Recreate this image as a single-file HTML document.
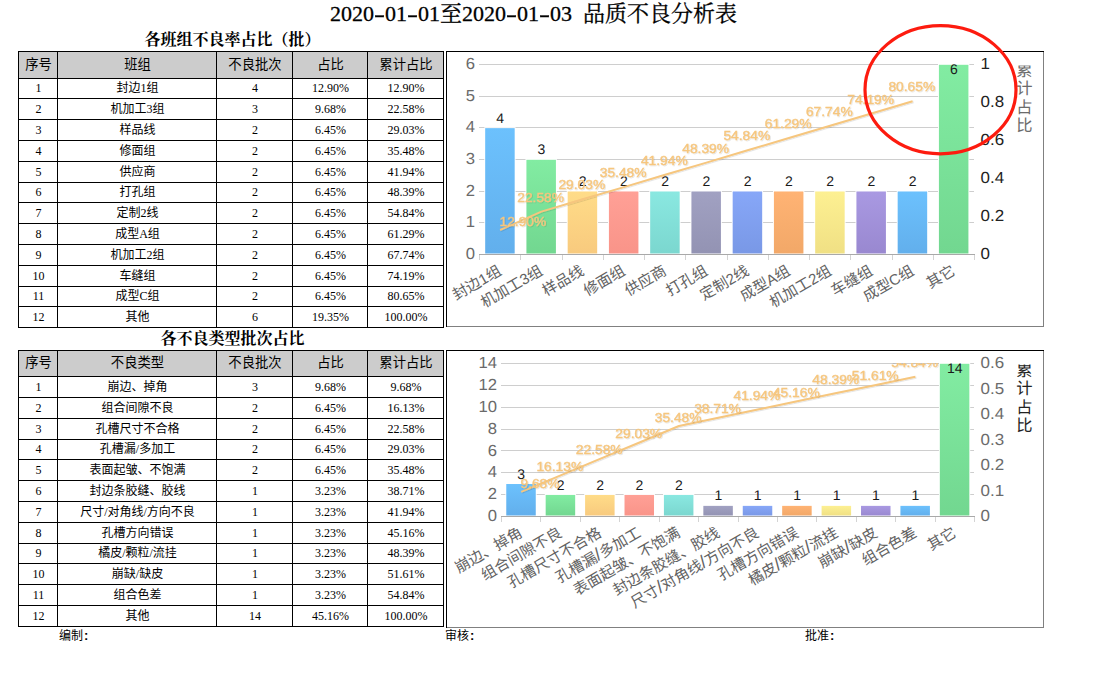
<!DOCTYPE html>
<html lang="zh"><head><meta charset="utf-8"><title>品质不良分析表</title><style>
html,body{margin:0;padding:0;background:#fff}
#page{position:relative;width:1093px;height:684px;overflow:hidden;background:#fff;font-family:"Liberation Serif","Noto Sans CJK SC",serif;color:#000}
.title{position:absolute;left:0;top:3px;width:1067px;text-align:center;font-size:22px;line-height:22px;white-space:nowrap;-webkit-text-stroke:0.3px #000;font-family:"Liberation Serif","Noto Serif CJK SC",serif}
.title i{display:inline-block;width:11px;text-align:center;font-style:normal;transform:scaleX(1.5)}
.sec{position:absolute;left:19.5px;width:426px;text-align:center;font-size:16px;line-height:18px;font-weight:bold;white-space:nowrap;font-family:"Liberation Serif","Noto Serif CJK SC",serif}
.c{position:absolute;box-sizing:border-box;padding:0 0 1px 1px;border:1px solid #000;display:flex;align-items:center;justify-content:center;font-size:12px;line-height:12px;white-space:nowrap}
.c.h{background:#ccc;font-size:13.33px;line-height:14px}
.chart{position:absolute;display:block}
.ft{position:absolute;top:628.3px;font-size:12px;line-height:14px;white-space:nowrap}
.ft b{font:bold 13px "Liberation Sans",sans-serif;margin-left:1px}
.ann{position:absolute;left:0;top:0;pointer-events:none}
</style></head><body>
<div id="page">
<div class="title">2020<i>-</i>01<i>-</i>01至2020<i>-</i>01<i>-</i>03<i> </i>品质不良分析表</div>
<div class="sec" style="top:31.2px">各班组不良率占比（批）</div>
<div class="sec" style="top:330.2px">各不良类型批次占比</div>
<div class="tbl">
<div class="c h" style="left:18px;top:51px;width:40px;height:28px"><span>序号</span></div>
<div class="c h" style="left:57px;top:51px;width:160px;height:28px"><span>班组</span></div>
<div class="c h" style="left:216px;top:51px;width:77px;height:28px"><span>不良批次</span></div>
<div class="c h" style="left:292px;top:51px;width:76px;height:28px"><span>占比</span></div>
<div class="c h" style="left:367px;top:51px;width:77px;height:28px"><span>累计占比</span></div>
<div class="c" style="left:18px;top:78px;width:40px;height:21px"><span>1</span></div>
<div class="c" style="left:57px;top:78px;width:160px;height:21px"><span>封边1组</span></div>
<div class="c" style="left:216px;top:78px;width:77px;height:21px"><span>4</span></div>
<div class="c" style="left:292px;top:78px;width:76px;height:21px"><span>12.90%</span></div>
<div class="c" style="left:367px;top:78px;width:77px;height:21px"><span>12.90%</span></div>
<div class="c" style="left:18px;top:98px;width:40px;height:22px"><span>2</span></div>
<div class="c" style="left:57px;top:98px;width:160px;height:22px"><span>机加工3组</span></div>
<div class="c" style="left:216px;top:98px;width:77px;height:22px"><span>3</span></div>
<div class="c" style="left:292px;top:98px;width:76px;height:22px"><span>9.68%</span></div>
<div class="c" style="left:367px;top:98px;width:77px;height:22px"><span>22.58%</span></div>
<div class="c" style="left:18px;top:119px;width:40px;height:22px"><span>3</span></div>
<div class="c" style="left:57px;top:119px;width:160px;height:22px"><span>样品线</span></div>
<div class="c" style="left:216px;top:119px;width:77px;height:22px"><span>2</span></div>
<div class="c" style="left:292px;top:119px;width:76px;height:22px"><span>6.45%</span></div>
<div class="c" style="left:367px;top:119px;width:77px;height:22px"><span>29.03%</span></div>
<div class="c" style="left:18px;top:140px;width:40px;height:22px"><span>4</span></div>
<div class="c" style="left:57px;top:140px;width:160px;height:22px"><span>修面组</span></div>
<div class="c" style="left:216px;top:140px;width:77px;height:22px"><span>2</span></div>
<div class="c" style="left:292px;top:140px;width:76px;height:22px"><span>6.45%</span></div>
<div class="c" style="left:367px;top:140px;width:77px;height:22px"><span>35.48%</span></div>
<div class="c" style="left:18px;top:161px;width:40px;height:22px"><span>5</span></div>
<div class="c" style="left:57px;top:161px;width:160px;height:22px"><span>供应商</span></div>
<div class="c" style="left:216px;top:161px;width:77px;height:22px"><span>2</span></div>
<div class="c" style="left:292px;top:161px;width:76px;height:22px"><span>6.45%</span></div>
<div class="c" style="left:367px;top:161px;width:77px;height:22px"><span>41.94%</span></div>
<div class="c" style="left:18px;top:182px;width:40px;height:21px"><span>6</span></div>
<div class="c" style="left:57px;top:182px;width:160px;height:21px"><span>打孔组</span></div>
<div class="c" style="left:216px;top:182px;width:77px;height:21px"><span>2</span></div>
<div class="c" style="left:292px;top:182px;width:76px;height:21px"><span>6.45%</span></div>
<div class="c" style="left:367px;top:182px;width:77px;height:21px"><span>48.39%</span></div>
<div class="c" style="left:18px;top:202px;width:40px;height:22px"><span>7</span></div>
<div class="c" style="left:57px;top:202px;width:160px;height:22px"><span>定制2线</span></div>
<div class="c" style="left:216px;top:202px;width:77px;height:22px"><span>2</span></div>
<div class="c" style="left:292px;top:202px;width:76px;height:22px"><span>6.45%</span></div>
<div class="c" style="left:367px;top:202px;width:77px;height:22px"><span>54.84%</span></div>
<div class="c" style="left:18px;top:223px;width:40px;height:22px"><span>8</span></div>
<div class="c" style="left:57px;top:223px;width:160px;height:22px"><span>成型A组</span></div>
<div class="c" style="left:216px;top:223px;width:77px;height:22px"><span>2</span></div>
<div class="c" style="left:292px;top:223px;width:76px;height:22px"><span>6.45%</span></div>
<div class="c" style="left:367px;top:223px;width:77px;height:22px"><span>61.29%</span></div>
<div class="c" style="left:18px;top:244px;width:40px;height:22px"><span>9</span></div>
<div class="c" style="left:57px;top:244px;width:160px;height:22px"><span>机加工2组</span></div>
<div class="c" style="left:216px;top:244px;width:77px;height:22px"><span>2</span></div>
<div class="c" style="left:292px;top:244px;width:76px;height:22px"><span>6.45%</span></div>
<div class="c" style="left:367px;top:244px;width:77px;height:22px"><span>67.74%</span></div>
<div class="c" style="left:18px;top:265px;width:40px;height:22px"><span>10</span></div>
<div class="c" style="left:57px;top:265px;width:160px;height:22px"><span>车缝组</span></div>
<div class="c" style="left:216px;top:265px;width:77px;height:22px"><span>2</span></div>
<div class="c" style="left:292px;top:265px;width:76px;height:22px"><span>6.45%</span></div>
<div class="c" style="left:367px;top:265px;width:77px;height:22px"><span>74.19%</span></div>
<div class="c" style="left:18px;top:286px;width:40px;height:21px"><span>11</span></div>
<div class="c" style="left:57px;top:286px;width:160px;height:21px"><span>成型C组</span></div>
<div class="c" style="left:216px;top:286px;width:77px;height:21px"><span>2</span></div>
<div class="c" style="left:292px;top:286px;width:76px;height:21px"><span>6.45%</span></div>
<div class="c" style="left:367px;top:286px;width:77px;height:21px"><span>80.65%</span></div>
<div class="c" style="left:18px;top:306px;width:40px;height:22px"><span>12</span></div>
<div class="c" style="left:57px;top:306px;width:160px;height:22px"><span>其他</span></div>
<div class="c" style="left:216px;top:306px;width:77px;height:22px"><span>6</span></div>
<div class="c" style="left:292px;top:306px;width:76px;height:22px"><span>19.35%</span></div>
<div class="c" style="left:367px;top:306px;width:77px;height:22px"><span>100.00%</span></div>
</div>
<div class="tbl">
<div class="c h" style="left:18px;top:350px;width:40px;height:27px"><span>序号</span></div>
<div class="c h" style="left:57px;top:350px;width:160px;height:27px"><span>不良类型</span></div>
<div class="c h" style="left:216px;top:350px;width:77px;height:27px"><span>不良批次</span></div>
<div class="c h" style="left:292px;top:350px;width:76px;height:27px"><span>占比</span></div>
<div class="c h" style="left:367px;top:350px;width:77px;height:27px"><span>累计占比</span></div>
<div class="c" style="left:18px;top:376px;width:40px;height:22px"><span>1</span></div>
<div class="c" style="left:57px;top:376px;width:160px;height:22px"><span>崩边、掉角</span></div>
<div class="c" style="left:216px;top:376px;width:77px;height:22px"><span>3</span></div>
<div class="c" style="left:292px;top:376px;width:76px;height:22px"><span>9.68%</span></div>
<div class="c" style="left:367px;top:376px;width:77px;height:22px"><span>9.68%</span></div>
<div class="c" style="left:18px;top:397px;width:40px;height:22px"><span>2</span></div>
<div class="c" style="left:57px;top:397px;width:160px;height:22px"><span>组合间隙不良</span></div>
<div class="c" style="left:216px;top:397px;width:77px;height:22px"><span>2</span></div>
<div class="c" style="left:292px;top:397px;width:76px;height:22px"><span>6.45%</span></div>
<div class="c" style="left:367px;top:397px;width:77px;height:22px"><span>16.13%</span></div>
<div class="c" style="left:18px;top:418px;width:40px;height:22px"><span>3</span></div>
<div class="c" style="left:57px;top:418px;width:160px;height:22px"><span>孔槽尺寸不合格</span></div>
<div class="c" style="left:216px;top:418px;width:77px;height:22px"><span>2</span></div>
<div class="c" style="left:292px;top:418px;width:76px;height:22px"><span>6.45%</span></div>
<div class="c" style="left:367px;top:418px;width:77px;height:22px"><span>22.58%</span></div>
<div class="c" style="left:18px;top:439px;width:40px;height:21px"><span>4</span></div>
<div class="c" style="left:57px;top:439px;width:160px;height:21px"><span>孔槽漏/多加工</span></div>
<div class="c" style="left:216px;top:439px;width:77px;height:21px"><span>2</span></div>
<div class="c" style="left:292px;top:439px;width:76px;height:21px"><span>6.45%</span></div>
<div class="c" style="left:367px;top:439px;width:77px;height:21px"><span>29.03%</span></div>
<div class="c" style="left:18px;top:459px;width:40px;height:22px"><span>5</span></div>
<div class="c" style="left:57px;top:459px;width:160px;height:22px"><span>表面起皱、不饱满</span></div>
<div class="c" style="left:216px;top:459px;width:77px;height:22px"><span>2</span></div>
<div class="c" style="left:292px;top:459px;width:76px;height:22px"><span>6.45%</span></div>
<div class="c" style="left:367px;top:459px;width:77px;height:22px"><span>35.48%</span></div>
<div class="c" style="left:18px;top:480px;width:40px;height:22px"><span>6</span></div>
<div class="c" style="left:57px;top:480px;width:160px;height:22px"><span>封边条胶缝、胶线</span></div>
<div class="c" style="left:216px;top:480px;width:77px;height:22px"><span>1</span></div>
<div class="c" style="left:292px;top:480px;width:76px;height:22px"><span>3.23%</span></div>
<div class="c" style="left:367px;top:480px;width:77px;height:22px"><span>38.71%</span></div>
<div class="c" style="left:18px;top:501px;width:40px;height:22px"><span>7</span></div>
<div class="c" style="left:57px;top:501px;width:160px;height:22px"><span>尺寸/对角线/方向不良</span></div>
<div class="c" style="left:216px;top:501px;width:77px;height:22px"><span>1</span></div>
<div class="c" style="left:292px;top:501px;width:76px;height:22px"><span>3.23%</span></div>
<div class="c" style="left:367px;top:501px;width:77px;height:22px"><span>41.94%</span></div>
<div class="c" style="left:18px;top:522px;width:40px;height:22px"><span>8</span></div>
<div class="c" style="left:57px;top:522px;width:160px;height:22px"><span>孔槽方向错误</span></div>
<div class="c" style="left:216px;top:522px;width:77px;height:22px"><span>1</span></div>
<div class="c" style="left:292px;top:522px;width:76px;height:22px"><span>3.23%</span></div>
<div class="c" style="left:367px;top:522px;width:77px;height:22px"><span>45.16%</span></div>
<div class="c" style="left:18px;top:543px;width:40px;height:21px"><span>9</span></div>
<div class="c" style="left:57px;top:543px;width:160px;height:21px"><span>橘皮/颗粒/流挂</span></div>
<div class="c" style="left:216px;top:543px;width:77px;height:21px"><span>1</span></div>
<div class="c" style="left:292px;top:543px;width:76px;height:21px"><span>3.23%</span></div>
<div class="c" style="left:367px;top:543px;width:77px;height:21px"><span>48.39%</span></div>
<div class="c" style="left:18px;top:563px;width:40px;height:22px"><span>10</span></div>
<div class="c" style="left:57px;top:563px;width:160px;height:22px"><span>崩缺/缺皮</span></div>
<div class="c" style="left:216px;top:563px;width:77px;height:22px"><span>1</span></div>
<div class="c" style="left:292px;top:563px;width:76px;height:22px"><span>3.23%</span></div>
<div class="c" style="left:367px;top:563px;width:77px;height:22px"><span>51.61%</span></div>
<div class="c" style="left:18px;top:584px;width:40px;height:22px"><span>11</span></div>
<div class="c" style="left:57px;top:584px;width:160px;height:22px"><span>组合色差</span></div>
<div class="c" style="left:216px;top:584px;width:77px;height:22px"><span>1</span></div>
<div class="c" style="left:292px;top:584px;width:76px;height:22px"><span>3.23%</span></div>
<div class="c" style="left:367px;top:584px;width:77px;height:22px"><span>54.84%</span></div>
<div class="c" style="left:18px;top:605px;width:40px;height:22px"><span>12</span></div>
<div class="c" style="left:57px;top:605px;width:160px;height:22px"><span>其他</span></div>
<div class="c" style="left:216px;top:605px;width:77px;height:22px"><span>14</span></div>
<div class="c" style="left:292px;top:605px;width:76px;height:22px"><span>45.16%</span></div>
<div class="c" style="left:367px;top:605px;width:77px;height:22px"><span>100.00%</span></div>
</div>
<svg class="chart" style="left:446px;top:51px" width="598" height="276" viewBox="446 51 598 276" font-family="Liberation Sans, Noto Sans CJK SC, sans-serif" text-rendering="geometricPrecision">
<defs>
<linearGradient id="gr0" x1="0" y1="0" x2="0" y2="1"><stop offset="0" stop-color="#6cc1fd"/><stop offset="1" stop-color="#62afec"/></linearGradient>
<linearGradient id="gr1" x1="0" y1="0" x2="0" y2="1"><stop offset="0" stop-color="#82eca2"/><stop offset="1" stop-color="#72d790"/></linearGradient>
<linearGradient id="gr2" x1="0" y1="0" x2="0" y2="1"><stop offset="0" stop-color="#ffdc88"/><stop offset="1" stop-color="#f8ca7e"/></linearGradient>
<linearGradient id="gr3" x1="0" y1="0" x2="0" y2="1"><stop offset="0" stop-color="#ffa096"/><stop offset="1" stop-color="#f99489"/></linearGradient>
<linearGradient id="gr4" x1="0" y1="0" x2="0" y2="1"><stop offset="0" stop-color="#8ae8e1"/><stop offset="1" stop-color="#7bd7cf"/></linearGradient>
<linearGradient id="gr5" x1="0" y1="0" x2="0" y2="1"><stop offset="0" stop-color="#a1a1c2"/><stop offset="1" stop-color="#9393b3"/></linearGradient>
<linearGradient id="gr6" x1="0" y1="0" x2="0" y2="1"><stop offset="0" stop-color="#87a7f8"/><stop offset="1" stop-color="#7998e6"/></linearGradient>
<linearGradient id="gr7" x1="0" y1="0" x2="0" y2="1"><stop offset="0" stop-color="#ffb374"/><stop offset="1" stop-color="#f2a868"/></linearGradient>
<linearGradient id="gr8" x1="0" y1="0" x2="0" y2="1"><stop offset="0" stop-color="#fdf092"/><stop offset="1" stop-color="#f0e084"/></linearGradient>
<linearGradient id="gr9" x1="0" y1="0" x2="0" y2="1"><stop offset="0" stop-color="#a999e2"/><stop offset="1" stop-color="#9988d0"/></linearGradient>
<filter id="sh" x="-5%" y="-30%" width="110%" height="160%"><feDropShadow dx="0.8" dy="0.8" stdDeviation="0.5" flood-color="#000" flood-opacity="0.13"/></filter>
</defs>
<clipPath id="cp1"><rect x="446" y="64.0" width="597" height="261"/></clipPath>
<path d="M479 222.5H974M479 191.5H974M479 159.5H974M479 127.5H974M479 96.5H974M479 64.5H974" stroke="#cecece" stroke-width="1" fill="none" shape-rendering="crispEdges"/>
<g fill="#6a6a6a" font-size="16" text-anchor="end">
<text transform="translate(474.9,259.10) scale(1.04,1)">0</text>
<text transform="translate(474.9,227.43) scale(1.04,1)">1</text>
<text transform="translate(474.9,195.77) scale(1.04,1)">2</text>
<text transform="translate(474.9,164.10) scale(1.04,1)">3</text>
<text transform="translate(474.9,132.43) scale(1.04,1)">4</text>
<text transform="translate(474.9,100.77) scale(1.04,1)">5</text>
<text transform="translate(474.9,69.10) scale(1.04,1)">6</text>
</g>
<rect x="484.27" y="127.23" width="31.30" height="126.77" fill="#fff"/><rect x="485.18" y="128.13" width="29.50" height="125.37" fill="url(#gr0)"/>
<rect x="525.52" y="158.90" width="31.30" height="95.10" fill="#fff"/><rect x="526.42" y="159.80" width="29.50" height="93.70" fill="url(#gr1)"/>
<rect x="566.77" y="190.57" width="31.30" height="63.43" fill="#fff"/><rect x="567.67" y="191.47" width="29.50" height="62.03" fill="url(#gr2)"/>
<rect x="608.02" y="190.57" width="31.30" height="63.43" fill="#fff"/><rect x="608.92" y="191.47" width="29.50" height="62.03" fill="url(#gr3)"/>
<rect x="649.27" y="190.57" width="31.30" height="63.43" fill="#fff"/><rect x="650.17" y="191.47" width="29.50" height="62.03" fill="url(#gr4)"/>
<rect x="690.52" y="190.57" width="31.30" height="63.43" fill="#fff"/><rect x="691.42" y="191.47" width="29.50" height="62.03" fill="url(#gr5)"/>
<rect x="731.77" y="190.57" width="31.30" height="63.43" fill="#fff"/><rect x="732.67" y="191.47" width="29.50" height="62.03" fill="url(#gr6)"/>
<rect x="773.02" y="190.57" width="31.30" height="63.43" fill="#fff"/><rect x="773.92" y="191.47" width="29.50" height="62.03" fill="url(#gr7)"/>
<rect x="814.27" y="190.57" width="31.30" height="63.43" fill="#fff"/><rect x="815.17" y="191.47" width="29.50" height="62.03" fill="url(#gr8)"/>
<rect x="855.52" y="190.57" width="31.30" height="63.43" fill="#fff"/><rect x="856.42" y="191.47" width="29.50" height="62.03" fill="url(#gr9)"/>
<rect x="896.77" y="190.57" width="31.30" height="63.43" fill="#fff"/><rect x="897.67" y="191.47" width="29.50" height="62.03" fill="url(#gr0)"/>
<rect x="938.02" y="63.90" width="31.30" height="190.10" fill="#fff"/><rect x="938.92" y="64.80" width="29.50" height="188.70" fill="url(#gr1)"/>
<path d="M479.5 255.0v5M520.5 255.0v5M562.5 255.0v5M603.5 255.0v5M644.5 255.0v5M685.5 255.0v5M727.5 255.0v5M768.5 255.0v5M809.5 255.0v5M850.5 255.0v5M892.5 255.0v5M933.5 255.0v5M974.5 255.0v5" stroke="#d4d4d4" stroke-width="1" fill="none" shape-rendering="crispEdges"/>
<path d="M479 254.5H975" stroke="#a9a9a9" stroke-width="1" fill="none" shape-rendering="crispEdges"/>
<g fill="#1a1a1a" font-size="14" text-anchor="middle">
<text x="500.12" y="122.73">4</text>
<text x="541.38" y="154.40">3</text>
<text x="582.62" y="186.07">2</text>
<text x="623.88" y="186.07">2</text>
<text x="665.12" y="186.07">2</text>
<text x="706.38" y="186.07">2</text>
<text x="747.62" y="186.07">2</text>
<text x="788.88" y="186.07">2</text>
<text x="830.12" y="186.07">2</text>
<text x="871.38" y="186.07">2</text>
<text x="912.62" y="186.07">2</text>
<text x="953.88" y="74.30">6</text>
</g>
<g clip-path="url(#cp1)">
<polyline points="500.1,230.0 541.4,211.6 582.6,199.3 623.9,187.1 665.1,174.8 706.4,162.6 747.6,150.3 788.9,138.0 830.1,125.8 871.4,113.5 912.6,101.3" fill="none" stroke="#f6c67e" stroke-width="2" stroke-linejoin="round" filter="url(#sh)"/>
<g fill="#f6c67e" stroke="#f6c67e" stroke-width="0.4" font-size="13" text-anchor="middle" filter="url(#sh)">
<text x="499.5" y="226.3" text-anchor="start" textLength="46.7" lengthAdjust="spacingAndGlyphs">12.90%</text>
<text x="540.6" y="201.7" textLength="46.7" lengthAdjust="spacingAndGlyphs">22.58%</text>
<text x="581.8" y="189.4" textLength="46.7" lengthAdjust="spacingAndGlyphs">29.03%</text>
<text x="623.1" y="177.2" textLength="46.7" lengthAdjust="spacingAndGlyphs">35.48%</text>
<text x="664.3" y="164.9" textLength="46.7" lengthAdjust="spacingAndGlyphs">41.94%</text>
<text x="705.6" y="152.7" textLength="46.7" lengthAdjust="spacingAndGlyphs">48.39%</text>
<text x="746.8" y="140.4" textLength="46.7" lengthAdjust="spacingAndGlyphs">54.84%</text>
<text x="788.1" y="128.1" textLength="46.7" lengthAdjust="spacingAndGlyphs">61.29%</text>
<text x="829.3" y="115.9" textLength="46.7" lengthAdjust="spacingAndGlyphs">67.74%</text>
<text x="870.6" y="103.6" textLength="46.7" lengthAdjust="spacingAndGlyphs">74.19%</text>
<text x="911.8" y="91.4" textLength="46.7" lengthAdjust="spacingAndGlyphs">80.65%</text>
</g></g>
<g transform="translate(502.5,273.8) rotate(-30)"><text x="0" y="0" fill="#626262" font-size="15" text-anchor="end">封边1组</text></g>
<g transform="translate(543.8,273.8) rotate(-30)"><text x="0" y="0" fill="#626262" font-size="15" text-anchor="end">机加工3组</text></g>
<g transform="translate(585.0,273.8) rotate(-30)"><text x="0" y="0" fill="#626262" font-size="15" text-anchor="end">样品线</text></g>
<g transform="translate(626.3,273.8) rotate(-30)"><text x="0" y="0" fill="#626262" font-size="15" text-anchor="end">修面组</text></g>
<g transform="translate(667.5,273.8) rotate(-30)"><text x="0" y="0" fill="#626262" font-size="15" text-anchor="end">供应商</text></g>
<g transform="translate(708.8,273.8) rotate(-30)"><text x="0" y="0" fill="#626262" font-size="15" text-anchor="end">打孔组</text></g>
<g transform="translate(750.0,273.8) rotate(-30)"><text x="0" y="0" fill="#626262" font-size="15" text-anchor="end">定制2线</text></g>
<g transform="translate(791.3,273.8) rotate(-30)"><text x="0" y="0" fill="#626262" font-size="15" text-anchor="end">成型A组</text></g>
<g transform="translate(832.5,273.8) rotate(-30)"><text x="0" y="0" fill="#626262" font-size="15" text-anchor="end">机加工2组</text></g>
<g transform="translate(873.8,273.8) rotate(-30)"><text x="0" y="0" fill="#626262" font-size="15" text-anchor="end">车缝组</text></g>
<g transform="translate(915.0,273.8) rotate(-30)"><text x="0" y="0" fill="#626262" font-size="15" text-anchor="end">成型C组</text></g>
<g transform="translate(956.3,273.8) rotate(-30)"><text x="0" y="0" fill="#626262" font-size="15" text-anchor="end">其它</text></g>
<g fill="#222" font-size="16">
<text transform="translate(980.5,69.10) scale(1.06,1)">1</text>
<text transform="translate(980.5,107.10) scale(1.06,1)">0.8</text>
<text transform="translate(980.5,145.10) scale(1.06,1)">0.6</text>
<text transform="translate(980.5,183.10) scale(1.06,1)">0.4</text>
<text transform="translate(980.5,221.10) scale(1.06,1)">0.2</text>
<text transform="translate(980.5,259.10) scale(1.06,1)">0</text>
</g>
<clipPath id="cp1t"><rect x="1000" y="65.5" width="43" height="200"/></clipPath>
<g clip-path="url(#cp1t)" fill="#6b6b6b" font-size="16.3">
<text x="1016.2" y="76.3">累</text>
<text x="1016.2" y="94.3">计</text>
<text x="1016.2" y="113.2">占</text>
<text x="1016.2" y="131.3">比</text>
</g>
<path d="M446.5 51V327M446 51.5H1044" stroke="#000" fill="none"/>
<path d="M1043.5 52V327M447 326.5H1044" stroke="#808080" fill="none"/>
</svg>
<svg class="chart" style="left:446px;top:350px" width="598" height="278" viewBox="446 350 598 278" font-family="Liberation Sans, Noto Sans CJK SC, sans-serif" text-rendering="geometricPrecision">
<clipPath id="cp2"><rect x="446" y="363.0" width="597" height="263"/></clipPath>
<path d="M501 494.5H974M501 472.5H974M501 450.5H974M501 429.5H974M501 407.5H974M501 385.5H974M501 363.5H974" stroke="#cecece" stroke-width="1" fill="none" shape-rendering="crispEdges"/>
<g fill="#6a6a6a" font-size="16" text-anchor="end">
<text transform="translate(496.9,521.10) scale(1.04,1)">0</text>
<text transform="translate(496.9,499.24) scale(1.04,1)">2</text>
<text transform="translate(496.9,477.39) scale(1.04,1)">4</text>
<text transform="translate(496.9,455.53) scale(1.04,1)">6</text>
<text transform="translate(496.9,433.67) scale(1.04,1)">8</text>
<text transform="translate(496.9,411.81) scale(1.04,1)">10</text>
<text transform="translate(496.9,389.96) scale(1.04,1)">12</text>
<text transform="translate(496.9,368.10) scale(1.04,1)">14</text>
</g>
<rect x="505.36" y="483.11" width="31.30" height="32.89" fill="#fff"/><rect x="506.26" y="484.01" width="29.50" height="31.49" fill="url(#gr0)"/>
<rect x="544.77" y="494.04" width="31.30" height="21.96" fill="#fff"/><rect x="545.67" y="494.94" width="29.50" height="20.56" fill="url(#gr1)"/>
<rect x="584.19" y="494.04" width="31.30" height="21.96" fill="#fff"/><rect x="585.09" y="494.94" width="29.50" height="20.56" fill="url(#gr2)"/>
<rect x="623.61" y="494.04" width="31.30" height="21.96" fill="#fff"/><rect x="624.51" y="494.94" width="29.50" height="20.56" fill="url(#gr3)"/>
<rect x="663.02" y="494.04" width="31.30" height="21.96" fill="#fff"/><rect x="663.92" y="494.94" width="29.50" height="20.56" fill="url(#gr4)"/>
<rect x="702.44" y="504.97" width="31.30" height="11.03" fill="#fff"/><rect x="703.34" y="505.87" width="29.50" height="9.63" fill="url(#gr5)"/>
<rect x="741.86" y="504.97" width="31.30" height="11.03" fill="#fff"/><rect x="742.76" y="505.87" width="29.50" height="9.63" fill="url(#gr6)"/>
<rect x="781.27" y="504.97" width="31.30" height="11.03" fill="#fff"/><rect x="782.17" y="505.87" width="29.50" height="9.63" fill="url(#gr7)"/>
<rect x="820.69" y="504.97" width="31.30" height="11.03" fill="#fff"/><rect x="821.59" y="505.87" width="29.50" height="9.63" fill="url(#gr8)"/>
<rect x="860.11" y="504.97" width="31.30" height="11.03" fill="#fff"/><rect x="861.01" y="505.87" width="29.50" height="9.63" fill="url(#gr9)"/>
<rect x="899.52" y="504.97" width="31.30" height="11.03" fill="#fff"/><rect x="900.42" y="505.87" width="29.50" height="9.63" fill="url(#gr0)"/>
<rect x="938.94" y="362.90" width="31.30" height="153.10" fill="#fff"/><rect x="939.84" y="363.80" width="29.50" height="151.70" fill="url(#gr1)"/>
<path d="M501.5 517.0v5M540.5 517.0v5M580.5 517.0v5M619.5 517.0v5M659.5 517.0v5M698.5 517.0v5M738.5 517.0v5M777.5 517.0v5M816.5 517.0v5M856.5 517.0v5M895.5 517.0v5M935.5 517.0v5M974.5 517.0v5" stroke="#d4d4d4" stroke-width="1" fill="none" shape-rendering="crispEdges"/>
<path d="M501 516.5H975" stroke="#a9a9a9" stroke-width="1" fill="none" shape-rendering="crispEdges"/>
<g fill="#1a1a1a" font-size="14" text-anchor="middle">
<text x="521.21" y="478.61">3</text>
<text x="560.62" y="489.54">2</text>
<text x="600.04" y="489.54">2</text>
<text x="639.46" y="489.54">2</text>
<text x="678.88" y="489.54">2</text>
<text x="718.29" y="500.47">1</text>
<text x="757.71" y="500.47">1</text>
<text x="797.12" y="500.47">1</text>
<text x="836.54" y="500.47">1</text>
<text x="875.96" y="500.47">1</text>
<text x="915.38" y="500.47">1</text>
<text x="954.79" y="373.30">14</text>
</g>
<g clip-path="url(#cp2)">
<polyline points="521.2,491.8 560.6,475.4 600.0,458.9 639.5,442.5 678.9,426.0 718.3,417.8 757.7,409.6 797.1,401.3 836.5,393.1 876.0,384.9 915.4,376.7" fill="none" stroke="#f6c67e" stroke-width="2" stroke-linejoin="round" filter="url(#sh)"/>
<g fill="#f6c67e" stroke="#f6c67e" stroke-width="0.4" font-size="13" text-anchor="middle" filter="url(#sh)">
<text x="520.6" y="488.1" text-anchor="start" textLength="38.8" lengthAdjust="spacingAndGlyphs">9.68%</text>
<text x="559.8" y="470.9" textLength="46.7" lengthAdjust="spacingAndGlyphs">16.13%</text>
<text x="599.2" y="454.4" textLength="46.7" lengthAdjust="spacingAndGlyphs">22.58%</text>
<text x="638.7" y="438.0" textLength="46.7" lengthAdjust="spacingAndGlyphs">29.03%</text>
<text x="678.1" y="421.5" textLength="46.7" lengthAdjust="spacingAndGlyphs">35.48%</text>
<text x="717.5" y="413.3" textLength="46.7" lengthAdjust="spacingAndGlyphs">38.71%</text>
<text x="756.9" y="400.1" textLength="46.7" lengthAdjust="spacingAndGlyphs">41.94%</text>
<text x="796.3" y="396.8" textLength="46.7" lengthAdjust="spacingAndGlyphs">45.16%</text>
<text x="835.7" y="383.6" textLength="46.7" lengthAdjust="spacingAndGlyphs">48.39%</text>
<text x="875.2" y="380.4" textLength="46.7" lengthAdjust="spacingAndGlyphs">51.61%</text>
<text x="914.6" y="367.2" textLength="46.7" lengthAdjust="spacingAndGlyphs">54.84%</text>
</g></g>
<g transform="translate(523.6,535.8) rotate(-30)"><text x="0" y="0" fill="#626262" font-size="15" text-anchor="end">崩边、掉角</text></g>
<g transform="translate(563.0,535.8) rotate(-30)"><text x="0" y="0" fill="#626262" font-size="15" text-anchor="end">组合间隙不良</text></g>
<g transform="translate(602.4,535.8) rotate(-30)"><text x="0" y="0" fill="#626262" font-size="15" text-anchor="end">孔槽尺寸不合格</text></g>
<g transform="translate(641.9,535.8) rotate(-30)"><text x="0" y="0" fill="#626262" font-size="15" text-anchor="end">孔槽漏<tspan font-size="18">/</tspan>多加工</text></g>
<g transform="translate(681.3,535.8) rotate(-30)"><text x="0" y="0" fill="#626262" font-size="15" text-anchor="end">表面起皱、不饱满</text></g>
<g transform="translate(720.7,535.8) rotate(-30)"><text x="0" y="0" fill="#626262" font-size="15" text-anchor="end">封边条胶缝、胶线</text></g>
<g transform="translate(760.1,535.8) rotate(-30)"><text x="0" y="0" fill="#626262" font-size="15" text-anchor="end">尺寸<tspan font-size="18">/</tspan>对角线<tspan font-size="18">/</tspan>方向不良</text></g>
<g transform="translate(799.5,535.8) rotate(-30)"><text x="0" y="0" fill="#626262" font-size="15" text-anchor="end">孔槽方向错误</text></g>
<g transform="translate(838.9,535.8) rotate(-30)"><text x="0" y="0" fill="#626262" font-size="15" text-anchor="end">橘皮<tspan font-size="18">/</tspan>颗粒<tspan font-size="18">/</tspan>流挂</text></g>
<g transform="translate(878.4,535.8) rotate(-30)"><text x="0" y="0" fill="#626262" font-size="15" text-anchor="end">崩缺<tspan font-size="18">/</tspan>缺皮</text></g>
<g transform="translate(917.8,535.8) rotate(-30)"><text x="0" y="0" fill="#626262" font-size="15" text-anchor="end">组合色差</text></g>
<g transform="translate(957.2,535.8) rotate(-30)"><text x="0" y="0" fill="#626262" font-size="15" text-anchor="end">其它</text></g>
<g fill="#6b6b6b" font-size="16">
<text transform="translate(980.5,368.10) scale(1.06,1)">0.6</text>
<text transform="translate(980.5,393.60) scale(1.06,1)">0.5</text>
<text transform="translate(980.5,419.10) scale(1.06,1)">0.4</text>
<text transform="translate(980.5,444.60) scale(1.06,1)">0.3</text>
<text transform="translate(980.5,470.10) scale(1.06,1)">0.2</text>
<text transform="translate(980.5,495.60) scale(1.06,1)">0.1</text>
<text transform="translate(980.5,521.10) scale(1.06,1)">0</text>
</g>
<clipPath id="cp2t"><rect x="1000" y="364.5" width="43" height="200"/></clipPath>
<g clip-path="url(#cp2t)" fill="#222" font-size="16.3">
<text x="1016.2" y="376.1">累</text>
<text x="1016.2" y="394.3">计</text>
<text x="1016.2" y="412.5">占</text>
<text x="1016.2" y="431.1">比</text>
</g>
<path d="M446.5 350V628M446 350.5H1044" stroke="#000" fill="none"/>
<path d="M1043.5 351V628M447 627.5H1044" stroke="#808080" fill="none"/>
</svg>
<div class="ft" style="left:59px">编制<b>:</b></div>
<div class="ft" style="left:445px">审核<b>:</b></div>
<div class="ft" style="left:805px">批准<b>:</b></div>
<svg class="ann" width="1093" height="684" viewBox="0 0 1093 684"><ellipse cx="940.5" cy="89.7" rx="75.5" ry="64.1" fill="none" stroke="#fd1b0f" stroke-width="3.2"/></svg>
</div>
</body></html>
